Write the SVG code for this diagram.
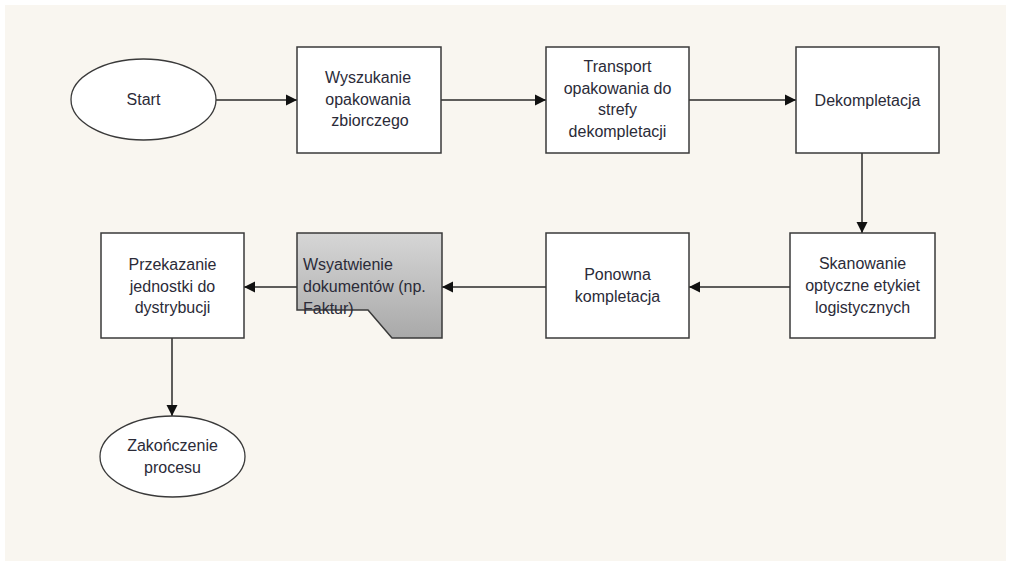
<svg xmlns="http://www.w3.org/2000/svg" width="1011" height="562" viewBox="0 0 1011 562">
  <style>
    .box { fill: #ffffff; stroke: #3a3a3a; stroke-width: 1.5; }
    .oval { fill: #ffffff; stroke: #3a3a3a; stroke-width: 1.3; }
    .doc { fill: url(#docGrad); stroke: #3a3a3a; stroke-width: 1.5; }
    .lbl { font-family: "Liberation Sans", Arial, sans-serif; font-size: 16px; fill: #2b2b38; text-anchor: middle; }
    .lblL { font-family: "Liberation Sans", Arial, sans-serif; font-size: 16px; fill: #2b2b38; text-anchor: start; }
    .conn { stroke: #2a2a2a; stroke-width: 1.5; fill: none; marker-end: url(#arrow); }
  </style>
  <defs>
    <marker id="arrow" markerUnits="userSpaceOnUse" markerWidth="12" markerHeight="12" refX="11" refY="6" orient="auto">
      <path d="M0,0.5 L11,6 L0,11.5 z" fill="#111"/>
    </marker>
    <linearGradient id="docGrad" x1="0" y1="0" x2="0" y2="1">
      <stop offset="0" stop-color="#d6d6d6"/>
      <stop offset="1" stop-color="#a9a9a9"/>
    </linearGradient>
  </defs>

  <rect x="0" y="0" width="1011" height="562" fill="#ffffff"/>
  <rect x="5" y="5" width="1001" height="556" fill="#f9f6f0"/>

  <g id="connectors">
    <line class="conn" x1="216" y1="100" x2="297" y2="100"/>
    <line class="conn" x1="441" y1="100" x2="546" y2="100"/>
    <line class="conn" x1="689" y1="100" x2="796" y2="100"/>
    <line class="conn" x1="862" y1="153" x2="862" y2="233"/>
    <line class="conn" x1="790" y1="287" x2="689" y2="287"/>
    <line class="conn" x1="546" y1="287" x2="442" y2="287"/>
    <line class="conn" x1="297" y1="287" x2="244" y2="287"/>
    <line class="conn" x1="172" y1="338" x2="172" y2="416"/>
  </g>

  <g id="start">
    <ellipse class="oval" cx="143.5" cy="99.5" rx="72.5" ry="40.5"/>
    <text class="lbl" x="143.5" y="105">Start</text>
  </g>

  <g id="wyszukanie">
    <rect class="box" x="297" y="47" width="144" height="106"/>
    <text class="lbl" x="368" y="83">Wyszukanie</text>
    <text class="lbl" x="368" y="104.5">opakowania</text>
    <text class="lbl" x="370" y="126">zbiorczego</text>
  </g>

  <g id="transport">
    <rect class="box" x="546" y="47" width="143" height="106"/>
    <text class="lbl" x="617.5" y="72">Transport</text>
    <text class="lbl" x="617.5" y="93.5">opakowania do</text>
    <text class="lbl" x="617.5" y="115">strefy</text>
    <text class="lbl" x="617.5" y="136.5">dekompletacji</text>
  </g>

  <g id="dekompletacja">
    <rect class="box" x="796" y="47" width="143" height="106"/>
    <text class="lbl" x="867.5" y="106">Dekompletacja</text>
  </g>

  <g id="skanowanie">
    <rect class="box" x="790" y="233" width="145" height="105"/>
    <text class="lbl" x="862.5" y="269">Skanowanie</text>
    <text class="lbl" x="862.5" y="291">optyczne etykiet</text>
    <text class="lbl" x="862.5" y="313">logistycznych</text>
  </g>

  <g id="ponowna">
    <rect class="box" x="546" y="233" width="143" height="105"/>
    <text class="lbl" x="617.5" y="280">Ponowna</text>
    <text class="lbl" x="617.5" y="301.5">kompletacja</text>
  </g>

  <g id="wystawienie">
    <path class="doc" d="M297,233 L442,233 L442,338 L392,338 L368,310 L297,310 Z"/>
    <text class="lblL" x="303" y="270">Wsyatwienie</text>
    <text class="lblL" x="303" y="292">dokumentów (np.</text>
    <text class="lblL" x="303" y="314">Faktur)</text>
  </g>

  <g id="przekazanie">
    <rect class="box" x="101" y="233" width="143" height="105"/>
    <text class="lbl" x="172.5" y="270">Przekazanie</text>
    <text class="lbl" x="172.5" y="291.5">jednostki do</text>
    <text class="lbl" x="172.5" y="313">dystrybucji</text>
  </g>

  <g id="zakonczenie">
    <ellipse class="oval" cx="172.5" cy="456.5" rx="72.5" ry="40.5"/>
    <text class="lbl" x="172.5" y="450.5">Zakończenie</text>
    <text class="lbl" x="172.5" y="472.5">procesu</text>
  </g>
</svg>
